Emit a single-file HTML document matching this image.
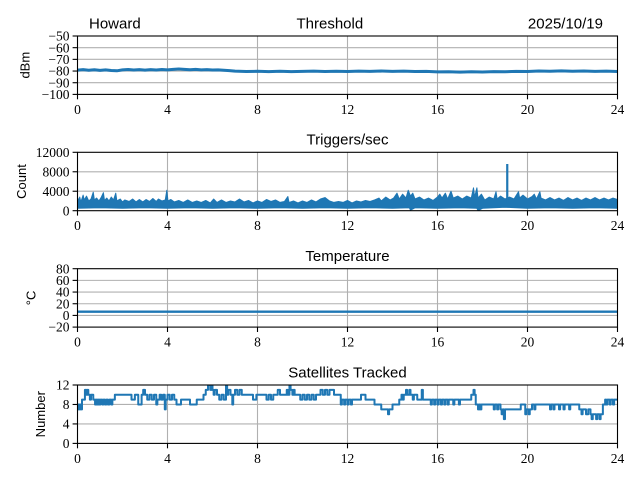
<!DOCTYPE html>
<html><head><meta charset="utf-8"><style>
html,body{margin:0;padding:0;background:#fff;}
svg{display:block;}
.t{font-family:"Liberation Serif",serif;font-size:13.5px;fill:#000;}
.s{font-family:"Liberation Sans",sans-serif;fill:#000;}
.g{stroke:#b0b0b0;stroke-width:1.1;}
.k{stroke:#000;stroke-width:1.1;}
.d{fill:none;stroke:#1f77b4;vector-effect:non-scaling-stroke;stroke-linejoin:round;}
</style></head><body>
<svg width="640" height="480" viewBox="0 0 640 480" xmlns="http://www.w3.org/2000/svg">
<rect width="640" height="480" fill="#fff"/>
<defs>
<clipPath id="c1"><rect x="77.5" y="36" width="540" height="58.4"/></clipPath>
<clipPath id="c2"><rect x="77.5" y="152.3" width="540" height="58.4"/></clipPath>
<clipPath id="c3"><rect x="77.5" y="268.7" width="540" height="58.4"/></clipPath>
<clipPath id="c4"><rect x="77.5" y="385" width="540" height="58.4"/></clipPath>
</defs>

<!-- ===== Panel 1 ===== -->
<g class="g">
<line x1="167.5" y1="36" x2="167.5" y2="94.4"/><line x1="257.5" y1="36" x2="257.5" y2="94.4"/><line x1="347.5" y1="36" x2="347.5" y2="94.4"/><line x1="437.5" y1="36" x2="437.5" y2="94.4"/><line x1="527.5" y1="36" x2="527.5" y2="94.4"/>
<line x1="77.5" y1="47.68" x2="617.5" y2="47.68"/><line x1="77.5" y1="59.36" x2="617.5" y2="59.36"/><line x1="77.5" y1="71.04" x2="617.5" y2="71.04"/><line x1="77.5" y1="82.72" x2="617.5" y2="82.72"/>
</g>
<g clip-path="url(#c1)">
<g transform="translate(77.5,-22.4) scale(22.5,-1.168)">
<path class="d" stroke-width="3" d="M0,-79.2 L.25,-78.8 L.5,-79.3 L.75,-78.9 L1,-79.4 L1.25,-79 L1.5,-79.5 L1.75,-79.8 L2,-79 L2.25,-78.7 L2.5,-79.1 L2.75,-78.8 L3,-79.2 L3.25,-78.8 L3.5,-79.1 L3.75,-78.7 L4,-79 L4.25,-78.6 L4.5,-78.2 L4.75,-78.6 L5,-78.9 L5.25,-78.6 L5.5,-79 L5.75,-78.8 L6,-79.1 L6.25,-79 L6.5,-79.3 L6.75,-79.6 L7,-80.1 L7.5,-80.4 L8,-80.2 L8.5,-80.5 L9,-80.2 L9.5,-80.5 L10,-80.3 L10.5,-80.1 L11,-80.4 L11.5,-80.2 L12,-80.4 L12.5,-80.1 L13,-80.3 L13.5,-80 L14,-80.3 L14.5,-80.1 L15,-80.4 L15.5,-80.3 L16,-80.7 L16.5,-80.6 L17,-80.9 L17.5,-80.6 L18,-80.8 L18.5,-80.5 L19,-80.6 L19.5,-80.3 L20,-80.4 L20.5,-80 L21,-80.2 L21.5,-79.9 L22,-80.2 L22.5,-80 L23,-80.3 L23.5,-80.1 L24,-80.4"/>
</g></g>
<rect x="77.5" y="36" width="540" height="58.4" fill="none" class="k"/>
<g class="k">
<line x1="77.5" y1="94.4" x2="77.5" y2="99.3"/><line x1="167.5" y1="94.4" x2="167.5" y2="99.3"/><line x1="257.5" y1="94.4" x2="257.5" y2="99.3"/><line x1="347.5" y1="94.4" x2="347.5" y2="99.3"/><line x1="437.5" y1="94.4" x2="437.5" y2="99.3"/><line x1="527.5" y1="94.4" x2="527.5" y2="99.3"/><line x1="617.5" y1="94.4" x2="617.5" y2="99.3"/>
<line x1="72.6" y1="36" x2="77.5" y2="36"/><line x1="72.6" y1="47.68" x2="77.5" y2="47.68"/><line x1="72.6" y1="59.36" x2="77.5" y2="59.36"/><line x1="72.6" y1="71.04" x2="77.5" y2="71.04"/><line x1="72.6" y1="82.72" x2="77.5" y2="82.72"/><line x1="72.6" y1="94.4" x2="77.5" y2="94.4"/>
</g>
<g class="t" text-anchor="end">
<text x="69.5" y="40.6">−50</text><text x="69.5" y="52.3">−60</text><text x="69.5" y="64">−70</text><text x="69.5" y="75.6">−80</text><text x="69.5" y="87.3">−90</text><text x="69.5" y="99">−100</text>
</g>
<g class="t" text-anchor="middle">
<text x="77.5" y="113.9">0</text><text x="167.5" y="113.9">4</text><text x="257.5" y="113.9">8</text><text x="347.5" y="113.9">12</text><text x="437.5" y="113.9">16</text><text x="527.5" y="113.9">20</text><text x="617.5" y="113.9">24</text>
</g>
<text class="s" font-size="13" text-anchor="middle" transform="translate(29.3,65.2) rotate(-90)">dBm</text>
<text class="s" font-size="15" x="89" y="28.3">Howard</text>
<text class="s" font-size="15" x="296.5" y="28.3">Threshold</text>
<text class="s" font-size="15" x="603" y="28.3" text-anchor="end">2025/10/19</text>

<!-- ===== Panel 2 ===== -->
<g class="g">
<line x1="167.5" y1="152.3" x2="167.5" y2="210.7"/><line x1="257.5" y1="152.3" x2="257.5" y2="210.7"/><line x1="347.5" y1="152.3" x2="347.5" y2="210.7"/><line x1="437.5" y1="152.3" x2="437.5" y2="210.7"/><line x1="527.5" y1="152.3" x2="527.5" y2="210.7"/>
<line x1="77.5" y1="171.77" x2="617.5" y2="171.77"/><line x1="77.5" y1="191.23" x2="617.5" y2="191.23"/>
</g>
<g clip-path="url(#c2)">
<g transform="translate(77.5,210.7) scale(22.5,-0.004867)">
<polygon fill="#1f77b4" stroke="#1f77b4" stroke-width="1" vector-effect="non-scaling-stroke" stroke-linejoin="round" points="0,2000 0.1,2800 0.15,1800 0.25,3200 0.3,2200 0.4,3000 0.5,2000 0.6,2400 0.7,3800 0.75,2200 0.85,2600 0.95,2000 1.05,2700 1.15,3700 1.2,2100 1.3,2600 1.4,2000 1.5,2800 1.6,2200 1.7,3600 1.75,2000 1.9,2400 2.0,1800 2.1,2200 2.3,1900 2.45,2400 2.6,1800 2.75,2300 2.9,1800 3.05,2300 3.2,1900 3.35,2500 3.5,1900 3.6,2400 3.75,2000 3.9,2200 3.97,4200 4.02,2000 4.15,2300 4.3,1800 4.5,2100 4.7,1700 4.9,2200 5.1,1700 5.3,2000 5.5,1700 5.7,2100 5.9,1600 6.05,2400 6.2,1700 6.4,2200 6.6,1700 6.8,2000 7.0,1800 7.2,2400 7.4,1800 7.6,2100 7.8,1600 8.0,2000 8.2,1700 8.4,2300 8.6,1900 8.8,2200 9.0,1700 9.2,1900 9.35,2900 9.4,1700 9.6,2000 9.8,1600 10.0,2000 10.2,1700 10.4,2200 10.6,1800 10.8,2400 11.0,2700 11.2,2000 11.4,1700 11.6,1900 11.8,1700 12.0,2100 12.2,1600 12.4,2000 12.6,1800 12.8,2100 13.0,1900 13.2,2200 13.4,2600 13.5,2000 13.7,2800 13.9,2200 14.05,2600 14.2,3600 14.3,2400 14.45,3400 14.6,2600 14.7,4200 14.8,3000 14.9,3600 15.0,2400 15.2,2800 15.4,2200 15.6,2600 15.8,2100 16.0,2800 16.1,3400 16.2,2600 16.35,3600 16.45,2400 16.6,4000 16.7,2600 16.9,3000 17.1,2400 17.3,3000 17.5,2600 17.6,4700 17.65,2800 17.75,4700 17.8,2600 17.95,3400 18.1,2200 18.3,2800 18.5,2400 18.6,3900 18.65,2400 18.8,3000 19.0,2400 19.1,2600 19.2,2800 19.4,2400 19.6,3900 19.65,2600 19.8,3200 20.0,2400 20.2,2900 20.3,3400 20.4,2400 20.55,3900 20.6,2600 20.8,2200 21.0,2700 21.2,2200 21.4,2600 21.6,2100 21.8,2700 22.0,2200 22.2,2600 22.4,2100 22.6,2600 22.8,2200 23.0,2700 23.2,2200 23.4,2600 23.6,2200 23.8,2600 24.0,2300 24,500 23,600 22,500 21,600 20,500 19,700 18,500 17.8,0 17.75,500 17,600 16,500 15,600 14.8,100 14.75,600 14,500 13,600 12,500 11,600 10,500 9,600 8,500 7,600 6,500 5,600 4,500 3,600 2,500 1,600 0,500"/>
<path class="d" stroke-width="2.2" d="M19.1,1500 L19.1,9600"/>
</g></g>
<rect x="77.5" y="152.3" width="540" height="58.4" fill="none" class="k"/>
<g class="k">
<line x1="77.5" y1="210.7" x2="77.5" y2="215.6"/><line x1="167.5" y1="210.7" x2="167.5" y2="215.6"/><line x1="257.5" y1="210.7" x2="257.5" y2="215.6"/><line x1="347.5" y1="210.7" x2="347.5" y2="215.6"/><line x1="437.5" y1="210.7" x2="437.5" y2="215.6"/><line x1="527.5" y1="210.7" x2="527.5" y2="215.6"/><line x1="617.5" y1="210.7" x2="617.5" y2="215.6"/>
<line x1="72.6" y1="152.3" x2="77.5" y2="152.3"/><line x1="72.6" y1="171.77" x2="77.5" y2="171.77"/><line x1="72.6" y1="191.23" x2="77.5" y2="191.23"/><line x1="72.6" y1="210.7" x2="77.5" y2="210.7"/>
</g>
<g class="t" text-anchor="end">
<text x="69.5" y="156.9">12000</text><text x="69.5" y="176.4">8000</text><text x="69.5" y="195.8">4000</text><text x="69.5" y="215.3">0</text>
</g>
<g class="t" text-anchor="middle">
<text x="77.5" y="230.2">0</text><text x="167.5" y="230.2">4</text><text x="257.5" y="230.2">8</text><text x="347.5" y="230.2">12</text><text x="437.5" y="230.2">16</text><text x="527.5" y="230.2">20</text><text x="617.5" y="230.2">24</text>
</g>
<text class="s" font-size="13" text-anchor="middle" transform="translate(26,181.5) rotate(-90)">Count</text>
<text class="s" font-size="15" x="347.5" y="144.6" text-anchor="middle">Triggers/sec</text>

<!-- ===== Panel 3 ===== -->
<g class="g">
<line x1="167.5" y1="268.7" x2="167.5" y2="327.1"/><line x1="257.5" y1="268.7" x2="257.5" y2="327.1"/><line x1="347.5" y1="268.7" x2="347.5" y2="327.1"/><line x1="437.5" y1="268.7" x2="437.5" y2="327.1"/><line x1="527.5" y1="268.7" x2="527.5" y2="327.1"/>
<line x1="77.5" y1="280.38" x2="617.5" y2="280.38"/><line x1="77.5" y1="292.06" x2="617.5" y2="292.06"/><line x1="77.5" y1="303.74" x2="617.5" y2="303.74"/><line x1="77.5" y1="315.42" x2="617.5" y2="315.42"/>
</g>
<g clip-path="url(#c3)">
<line x1="77.5" y1="311.7" x2="617.5" y2="311.7" stroke="#1f77b4" stroke-width="2.4"/>
</g>
<rect x="77.5" y="268.7" width="540" height="58.4" fill="none" class="k"/>
<g class="k">
<line x1="77.5" y1="327.1" x2="77.5" y2="332"/><line x1="167.5" y1="327.1" x2="167.5" y2="332"/><line x1="257.5" y1="327.1" x2="257.5" y2="332"/><line x1="347.5" y1="327.1" x2="347.5" y2="332"/><line x1="437.5" y1="327.1" x2="437.5" y2="332"/><line x1="527.5" y1="327.1" x2="527.5" y2="332"/><line x1="617.5" y1="327.1" x2="617.5" y2="332"/>
<line x1="72.6" y1="268.7" x2="77.5" y2="268.7"/><line x1="72.6" y1="280.38" x2="77.5" y2="280.38"/><line x1="72.6" y1="292.06" x2="77.5" y2="292.06"/><line x1="72.6" y1="303.74" x2="77.5" y2="303.74"/><line x1="72.6" y1="315.42" x2="77.5" y2="315.42"/><line x1="72.6" y1="327.1" x2="77.5" y2="327.1"/>
</g>
<g class="t" text-anchor="end">
<text x="69.5" y="273.3">80</text><text x="69.5" y="285">60</text><text x="69.5" y="296.7">40</text><text x="69.5" y="308.3">20</text><text x="69.5" y="320">0</text><text x="69.5" y="331.7">−20</text>
</g>
<g class="t" text-anchor="middle">
<text x="77.5" y="346.6">0</text><text x="167.5" y="346.6">4</text><text x="257.5" y="346.6">8</text><text x="347.5" y="346.6">12</text><text x="437.5" y="346.6">16</text><text x="527.5" y="346.6">20</text><text x="617.5" y="346.6">24</text>
</g>
<text class="s" font-size="13" text-anchor="middle" transform="translate(35.5,297.9) rotate(-90)">°C</text>
<text class="s" font-size="15" x="347.5" y="261" text-anchor="middle">Temperature</text>

<!-- ===== Panel 4 ===== -->
<g class="g">
<line x1="167.5" y1="385" x2="167.5" y2="443.4"/><line x1="257.5" y1="385" x2="257.5" y2="443.4"/><line x1="347.5" y1="385" x2="347.5" y2="443.4"/><line x1="437.5" y1="385" x2="437.5" y2="443.4"/><line x1="527.5" y1="385" x2="527.5" y2="443.4"/>
<line x1="77.5" y1="404.47" x2="617.5" y2="404.47"/><line x1="77.5" y1="423.93" x2="617.5" y2="423.93"/>
</g>
<g clip-path="url(#c4)">
<g transform="translate(77.5,443.4) scale(22.5,-4.867)">
<path class="d" stroke-width="2" stroke-linejoin="miter" d="M0,7 H0.04 V8 H0.08 V7 H0.12 V8 H0.16 V7 H0.2 V9 H0.33 V11 H0.4 V10 H0.43 V11 H0.48 V10 H0.55 V9 H0.6 V10 H0.7 V9 H0.78 V8 H0.82 V9 H0.88 V8 H0.92 V9 H0.98 V8 H1.02 V9 H1.1 V8 H1.15 V9 H1.22 V8 H1.28 V9 H1.35 V8 H1.42 V9 H1.5 V8 H1.55 V9 H1.66 V10 H2.4 V9 H2.55 V10 H2.7 V8 H2.85 V10 H2.92 V11 H3.0 V10 H3.1 V9 H3.2 V10 H3.3 V9 H3.4 V10 H3.5 V8 H3.55 V9 H3.65 V10 H3.72 V9 H3.8 V10 H3.88 V7 H3.92 V9 H4.0 V10 H4.1 V9 H4.2 V10 H4.3 V9 H4.4 V8 H4.6 V9 H5.0 V8 H5.3 V9 H5.6 V10 H5.7 V11 H5.8 V12 H5.9 V11 H5.95 V12 H6.0 V11 H6.05 V10 H6.1 V11 H6.2 V10 H6.3 V9 H6.4 V10 H6.5 V9 H6.6 V12 H6.65 V10 H6.7 V11 H6.8 V10 H6.88 V8 H6.92 V10 H7.0 V11 H7.1 V10 H7.2 V11 H7.3 V10 H7.8 V9 H7.95 V10 H8.4 V9 H8.5 V10 H8.6 V9 H8.7 V10 H8.9 V11 H9.0 V10 H9.3 V11 H9.35 V10 H9.42 V12 H9.47 V11 H9.55 V10 H9.6 V11 H9.65 V10 H9.9 V9 H10.0 V10 H10.1 V9 H10.2 V10 H10.3 V9 H10.4 V10 H10.5 V9 H10.6 V10 H10.8 V11 H10.9 V10 H11.0 V11 H11.1 V10 H11.2 V11 H11.4 V10 H11.7 V8 H11.75 V9 H11.85 V8 H11.9 V9 H12.0 V8 H12.05 V9 H12.15 V8 H12.2 V9 H12.6 V10 H12.8 V9 H13.2 V8 H13.5 V7 H13.8 V6 H13.85 V7 H14.0 V8 H14.3 V9 H14.4 V10 H14.45 V9 H14.5 V10 H14.6 V11 H14.65 V10 H14.75 V11 H14.8 V10 H14.9 V9 H14.95 V10 H15.1 V9 H15.3 V11 H15.35 V9 H15.7 V8 H15.75 V9 H15.85 V8 H15.9 V9 H16.0 V8 H16.05 V9 H16.15 V8 H16.2 V9 H16.3 V8 H16.35 V9 H16.45 V8 H16.5 V9 H16.7 V8 H16.75 V9 H16.95 V8 H17.0 V9 H17.5 V10 H17.6 V11 H17.65 V10 H17.7 V8 H17.8 V7 H17.85 V8 H17.9 V7 H17.95 V8 H18.5 V7 H18.55 V8 H18.65 V7 H18.7 V8 H18.8 V7 H18.85 V6 H18.9 V7 H18.95 V5 H19.0 V7 H19.7 V8 H19.9 V6 H19.95 V7 H20.05 V6 H20.1 V7 H20.2 V8 H20.3 V7 H20.35 V8 H21.0 V7 H21.05 V8 H21.15 V7 H21.2 V8 H21.4 V7 H21.45 V8 H21.6 V7 H21.65 V8 H21.85 V7 H21.9 V8 H22.3 V7 H22.4 V6 H22.45 V7 H22.6 V6 H22.7 V7 H22.8 V6 H22.85 V5 H22.9 V6 H23.05 V5 H23.1 V6 H23.2 V5 H23.25 V6 H23.35 V8 H23.45 V9 H23.5 V8 H23.55 V9 H23.65 V8 H23.7 V9 H23.8 V8 H23.85 V9 H24"/>
</g></g>
<rect x="77.5" y="385" width="540" height="58.4" fill="none" class="k"/>
<g class="k">
<line x1="77.5" y1="443.4" x2="77.5" y2="448.3"/><line x1="167.5" y1="443.4" x2="167.5" y2="448.3"/><line x1="257.5" y1="443.4" x2="257.5" y2="448.3"/><line x1="347.5" y1="443.4" x2="347.5" y2="448.3"/><line x1="437.5" y1="443.4" x2="437.5" y2="448.3"/><line x1="527.5" y1="443.4" x2="527.5" y2="448.3"/><line x1="617.5" y1="443.4" x2="617.5" y2="448.3"/>
<line x1="72.6" y1="385" x2="77.5" y2="385"/><line x1="72.6" y1="404.47" x2="77.5" y2="404.47"/><line x1="72.6" y1="423.93" x2="77.5" y2="423.93"/><line x1="72.6" y1="443.4" x2="77.5" y2="443.4"/>
</g>
<g class="t" text-anchor="end">
<text x="69.5" y="389.6">12</text><text x="69.5" y="409.1">8</text><text x="69.5" y="428.5">4</text><text x="69.5" y="448">0</text>
</g>
<g class="t" text-anchor="middle">
<text x="77.5" y="462.9">0</text><text x="167.5" y="462.9">4</text><text x="257.5" y="462.9">8</text><text x="347.5" y="462.9">12</text><text x="437.5" y="462.9">16</text><text x="527.5" y="462.9">20</text><text x="617.5" y="462.9">24</text>
</g>
<text class="s" font-size="13" text-anchor="middle" transform="translate(45,414.2) rotate(-90)">Number</text>
<text class="s" font-size="15" x="347.5" y="377.3" text-anchor="middle">Satellites Tracked</text>
</svg>
</body></html>
